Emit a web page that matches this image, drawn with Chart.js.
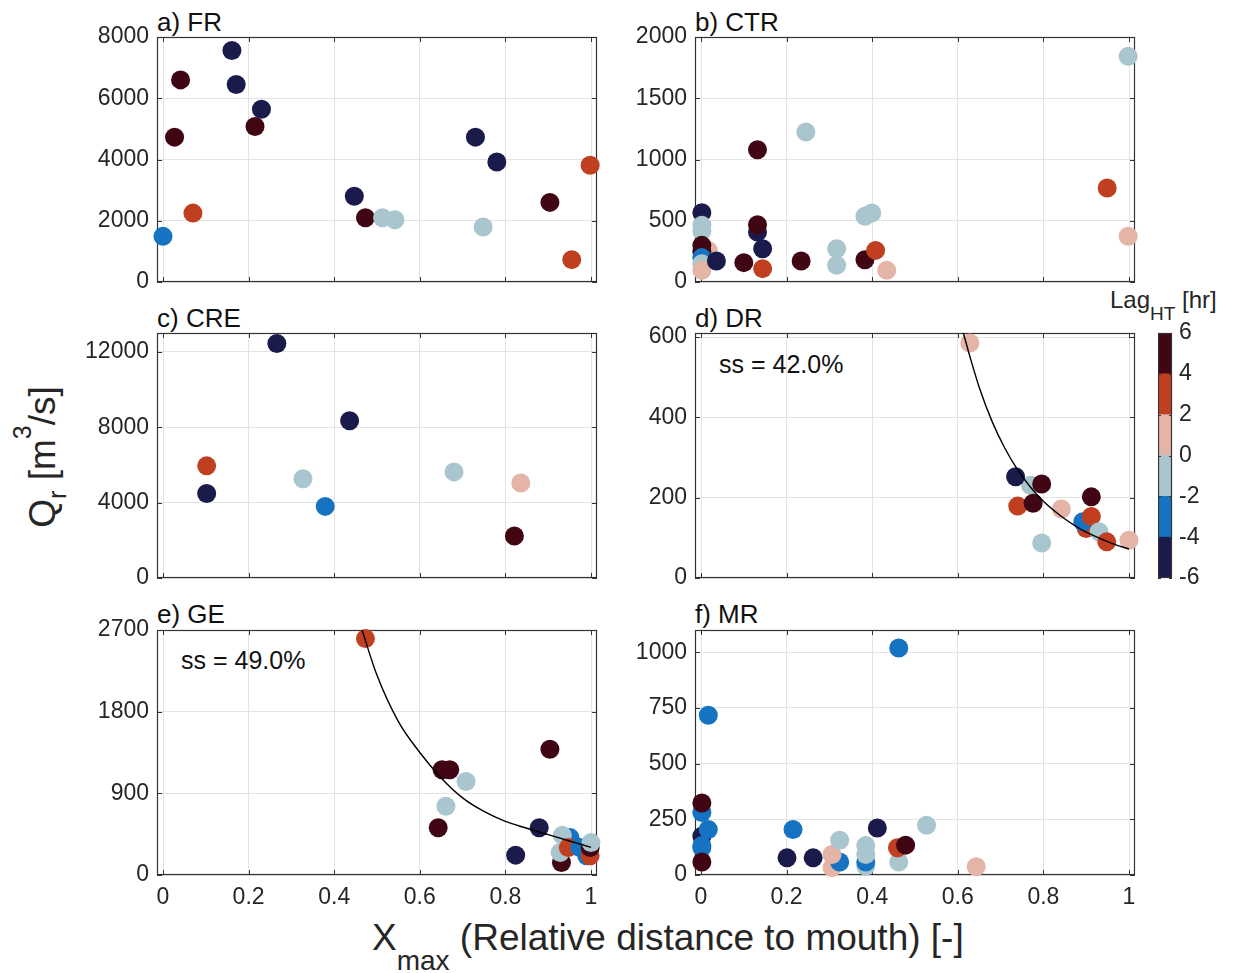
<!DOCTYPE html>
<html><head><meta charset="utf-8">
<script src="https://cdn.jsdelivr.net/npm/chart.js@4.4.0/dist/chart.umd.min.js"></script>
<style>
html,body{margin:0;padding:0;background:#fff;}
#wrap{position:relative;width:1236px;height:973px;overflow:hidden;font-family:"Liberation Sans",Arial,Helvetica,sans-serif;color:#111;}
canvas{position:absolute;}
.t{position:absolute;white-space:nowrap;line-height:1;}
.title{font-size:26px;}
.ss{font-size:25px;}
.lab{font-size:37px;color:#262626;}
.rel{position:relative;}
</style></head><body><div id="wrap">
<div class="t title" style="left:157px;top:9px;">a) FR</div>
<div class="t title" style="left:695px;top:9px;">b) CTR</div>
<div class="t title" style="left:157px;top:305px;">c) CRE</div>
<div class="t title" style="left:695px;top:305px;">d) DR</div>
<div class="t title" style="left:157px;top:601px;">e) GE</div>
<div class="t title" style="left:695px;top:601px;">f) MR</div>
<div class="t ss" style="left:719px;top:352px;">ss = 42.0%</div>
<div class="t ss" style="left:181px;top:648px;">ss = 49.0%</div>
<div class="t lab" style="left:42px;top:457px;transform:translate(-50%,-50%) rotate(-90deg);">Q<span class="rel" style="font-size:25px;top:11px;">r</span> [m<span class="rel" style="font-size:25px;top:-24px;">3</span>/s]</div>
<div class="t lab" style="left:372px;top:919px;">X<span class="rel" style="font-size:28px;top:20px;">max</span> (Relative distance to mouth) [-]</div>
<div class="t" style="left:1110px;top:288px;font-size:24px;color:#262626;">Lag<span class="rel" style="font-size:19px;top:12px;">HT</span> [hr]</div>
</div>
<script>
// ---------- data ----------
const xTicks = [0, 0.2, 0.4, 0.6, 0.8, 1];

const frX   = [0.000, 0.027, 0.041, 0.070, 0.161, 0.171, 0.215, 0.230, 0.447, 0.473, 0.513, 0.542, 0.730, 0.780, 0.748, 0.904, 0.955, 0.998];
const frQ   = [1490, 4730, 6600, 2250, 7560, 6450, 5080, 5640, 2800, 2100, 2100, 2035, 4730, 3920, 1795, 2600, 730, 3810];
const frLag = [-3, 5, 5, 3, -5, -5, 5, -5, -5, 5, -1, -1, -5, -5, -1, 5, 3, 3];
const frTicks = [0, 2000, 4000, 6000, 8000];

const ctrX   = [0.998, 0.949, 0.998, 0.245, 0.132, 0.002, 0.002, 0.002, 0.017, 0.002, 0.002, 0.002, 0.002, 0.002, 0.036, 0.100, 0.132, 0.132, 0.144, 0.144, 0.234, 0.317, 0.317, 0.383, 0.383, 0.399, 0.408, 0.434];
const ctrQ   = [1842, 767, 373, 1224, 1080, 566, 463, 416, 258, 299, 250, 199, 150, 95, 171, 158, 408, 468, 272, 109, 171, 272, 136, 182, 536, 563, 258, 95];
const ctrLag = [-1, 3, 1, -1, 5, -5, -1, -1, 1, 5, 5, -3, -1, 1, -5, 5, -5, 5, -5, 3, 5, -1, -1, 5, -1, -1, 3, 1];
const ctrTicks = [0, 500, 1000, 1500, 2000];

const creX   = [0.266, 0.436, 0.102, 0.102, 0.327, 0.379, 0.680, 0.836, 0.821];
const creQ   = [12440, 8340, 5950, 4480, 5270, 3800, 5630, 5040, 2230];
const creLag = [-5, -5, 3, -5, -1, -3, -1, 1, 5];
const creTicks = [0, 4000, 8000, 12000];

const drX   = [0.628, 0.770, 0.735, 0.796, 0.740, 0.776, 0.842, 0.796, 0.912, 0.900, 0.892, 0.912, 0.930, 0.948, 1.000];
const drQ   = [585, 231, 252, 234, 179, 186, 172, 87, 202, 123, 140, 153, 115, 90, 94];
const drLag = [1, -1, -5, 5, 3, 5, 1, -1, 5, 3, -3, 3, -1, 3, 1];
const drTicks = [0, 200, 400, 600];
const drFitX = [0.613, 0.63, 0.65, 0.68, 0.71, 0.74, 0.77, 0.80, 0.84, 0.88, 0.92, 0.96, 1.0];
const drFitQ = [610, 545, 475, 390, 323, 269, 226, 191, 155, 126, 104, 86, 72];

const geX   = [0.473, 0.652, 0.670, 0.708, 0.661, 0.643, 0.904, 0.879, 0.824, 0.951, 0.933, 0.931, 0.928, 0.947, 0.974, 0.990, 0.998, 0.998, 1.000];
const geQ   = [2605, 1160, 1160, 1030, 758, 521, 1385, 521, 219, 412, 437, 138, 248, 302, 302, 211, 211, 302, 357];
const geLag = [3, 5, 5, -1, -1, 5, 5, -5, -5, -3, -1, 5, -1, 3, -3, -3, 3, 5, -1];
const geTicks = [0, 900, 1800, 2700];
const geFitX = [0.465, 0.50, 0.55, 0.60, 0.65, 0.70, 0.75, 0.80, 0.85, 0.90, 0.95, 1.0];
const geFitQ = [2700, 2200, 1690, 1350, 1070, 850, 700, 590, 515, 445, 375, 305];

const mrX   = [0.462, 0.017, 0.002, 0.002, 0.002, 0.002, 0.002, 0.017, 0.002, 0.201, 0.215, 0.262, 0.306, 0.324, 0.306, 0.324, 0.385, 0.385, 0.385, 0.385, 0.412, 0.462, 0.459, 0.478, 0.527, 0.643];
const mrQ   = [1019, 717, 281, 323, 174, 122, 132, 204, 58, 77, 204, 77, 33, 58, 92, 156, 40, 58, 92, 132, 211, 58, 122, 134, 223, 37];
const mrLag = [-3, -3, -3, 5, -5, -3, -3, -3, 5, -5, -3, -5, 1, -3, 1, -1, -1, -3, -1, -1, -5, -1, 3, 5, -1, 1];
const mrTicks = [0, 250, 500, 750, 1000];

const lagEdges  = [-6, -4, -2, 0, 2, 4, 6];
const lagColors = ['#1a1b4b', '#1573c1', '#a9c5cd', '#e4b5a6', '#c13f21', '#400614'];
const cbTicks   = [-6, -4, -2, 0, 2, 4, 6];

// ---------- layout ----------
const COL_X = [157, 695], ROW_Y = [37, 333, 630];
const PW = 440, PH = 245, AX_W = 110, PAD_T = 30, PAD_R = 25;
const X_PAD = 6 / 428;
const GRID = '#e3e3e3', AXC = '#333333', TICKC = '#262626';
const FONT = '"Liberation Sans", Arial, Helvetica, sans-serif';
Chart.defaults.font.family = FONT;

function lagColor(v) {
  for (let i = 0; i < lagColors.length; i++) if (v >= lagEdges[i] && v < lagEdges[i + 1]) return lagColors[i];
  return lagColors[lagColors.length - 1];
}
function mkCanvas(l, t, w, h) {
  const c = document.createElement('canvas');
  c.width = w; c.height = h;
  c.style.left = l + 'px'; c.style.top = t + 'px';
  c.style.width = w + 'px'; c.style.height = h + 'px';
  document.getElementById('wrap').appendChild(c);
  return c;
}
const axesPlugin = {
  id: 'matlabAxes',
  beforeDatasetsDraw(chart) {
    const {ctx, chartArea: a, scales} = chart;
    ctx.save();
    ctx.strokeStyle = AXC; ctx.lineWidth = 1;
    const L = 5;
    ctx.beginPath();
    scales.x.ticks.forEach(t => {
      const p = Math.round(scales.x.getPixelForValue(t.value)) + 0.5;
      ctx.moveTo(p, a.bottom); ctx.lineTo(p, a.bottom - L);
      ctx.moveTo(p, a.top); ctx.lineTo(p, a.top + L);
    });
    scales.y.ticks.forEach(t => {
      const p = Math.round(scales.y.getPixelForValue(t.value)) + 0.5;
      ctx.moveTo(a.left, p); ctx.lineTo(a.left + L, p);
      ctx.moveTo(a.right, p); ctx.lineTo(a.right - L, p);
    });
    ctx.stroke();
    ctx.lineWidth = 1.2;
    ctx.strokeRect(a.left + 0.5, a.top + 0.5, a.right - a.left - 1, a.bottom - a.top - 1);
    ctx.restore();
  }
};

function panel(col, row, xs, qs, lags, yTicks, yMax, fitX, fitQ) {
  const bottomRow = row === 2;
  const hx = bottomRow ? 45 : 30;
  const cv = mkCanvas(COL_X[col] - AX_W, ROW_Y[row] - PAD_T, AX_W + PW + PAD_R, PAD_T + PH + hx);
  const datasets = [{
    data: xs.map((x, i) => ({x: x, y: qs[i]})),
    pointRadius: 9.5, pointHoverRadius: 9.5,
    pointBackgroundColor: lags.map(lagColor),
    pointBorderWidth: 0, showLine: false, clip: false, order: 1
  }];
  if (fitX) datasets.push({
    data: fitX.map((x, i) => ({x: x, y: fitQ[i]})),
    showLine: true, borderColor: '#000', borderWidth: 1.4, pointRadius: 0,
    cubicInterpolationMode: 'monotone', fill: false, order: 0
  });
  new Chart(cv, {
    type: 'scatter',
    data: {datasets},
    options: {
      responsive: false, animation: false, events: [], devicePixelRatio: 1,
      layout: {padding: {top: PAD_T, right: PAD_R, left: 0, bottom: 0}},
      plugins: {legend: {display: false}, tooltip: {enabled: false}, title: {display: false}},
      scales: {
        x: {
          type: 'linear', min: -X_PAD, max: 1 + X_PAD,
          afterBuildTicks: s => { s.ticks = xTicks.map(v => ({value: v})); },
          afterFit: s => { s.height = hx; },
          grid: {color: GRID, drawTicks: false, lineWidth: 1},
          border: {display: false},
          ticks: {display: bottomRow, autoSkip: false, maxRotation: 0, padding: 9, font: {size: 23}, color: TICKC, callback: v => String(v)}
        },
        y: {
          type: 'linear', min: 0, max: yMax,
          afterBuildTicks: s => { s.ticks = yTicks.map(v => ({value: v})); },
          afterFit: s => { s.width = AX_W; },
          grid: {color: GRID, drawTicks: false, lineWidth: 1},
          border: {display: false},
          ticks: {autoSkip: false, padding: 8, font: {size: 23}, color: TICKC, callback: v => String(v)}
        }
      }
    },
    plugins: [axesPlugin]
  });
}

panel(0, 0, frX, frQ, frLag, frTicks, 8000);
panel(1, 0, ctrX, ctrQ, ctrLag, ctrTicks, 2000);
panel(0, 1, creX, creQ, creLag, creTicks, 13000);
panel(1, 1, drX, drQ, drLag, drTicks, 610, drFitX, drFitQ);
panel(0, 2, geX, geQ, geLag, geTicks, 2700, geFitX, geFitQ);
panel(1, 2, mrX, mrQ, mrLag, mrTicks, 1100);

// ---------- colorbar ----------
(function () {
  const cv = mkCanvas(1158, 333 - 30, 14 + 60, 245 + 60);
  const cbPlugin = {
    id: 'cbBox',
    afterDatasetsDraw(chart) {
      const {ctx, chartArea: a, scales} = chart;
      ctx.save();
      ctx.strokeStyle = AXC; ctx.lineWidth = 1;
      ctx.beginPath();
      scales.y.ticks.forEach(t => {
        const p = Math.round(scales.y.getPixelForValue(t.value)) + 0.5;
        ctx.moveTo(a.left, p); ctx.lineTo(a.left + 3, p);
        ctx.moveTo(a.right, p); ctx.lineTo(a.right - 3, p);
      });
      ctx.stroke();
      ctx.lineWidth = 1.2;
      ctx.strokeRect(a.left + 0.5, a.top + 0.5, a.right - a.left - 1, a.bottom - a.top - 1);
      ctx.restore();
    }
  };
  new Chart(cv, {
    type: 'bar',
    data: {
      labels: [''],
      datasets: lagColors.map((c, i) => ({
        data: [[lagEdges[i], lagEdges[i + 1]]], backgroundColor: c, borderWidth: 0,
        grouped: false, barPercentage: 1, categoryPercentage: 1
      }))
    },
    options: {
      responsive: false, animation: false, events: [], devicePixelRatio: 1,
      layout: {padding: {top: 30, bottom: 30, left: 0, right: 0}},
      plugins: {legend: {display: false}, tooltip: {enabled: false}},
      scales: {
        x: {display: false},
        y: {
          position: 'right', min: -6, max: 6,
          afterBuildTicks: s => { s.ticks = cbTicks.map(v => ({value: v})); },
          afterFit: s => { s.width = 60; },
          grid: {display: false, drawTicks: false}, border: {display: false},
          ticks: {padding: 7, font: {size: 23}, color: TICKC, callback: v => String(v)}
        }
      }
    },
    plugins: [cbPlugin]
  });
})();
</script>
</body></html>
